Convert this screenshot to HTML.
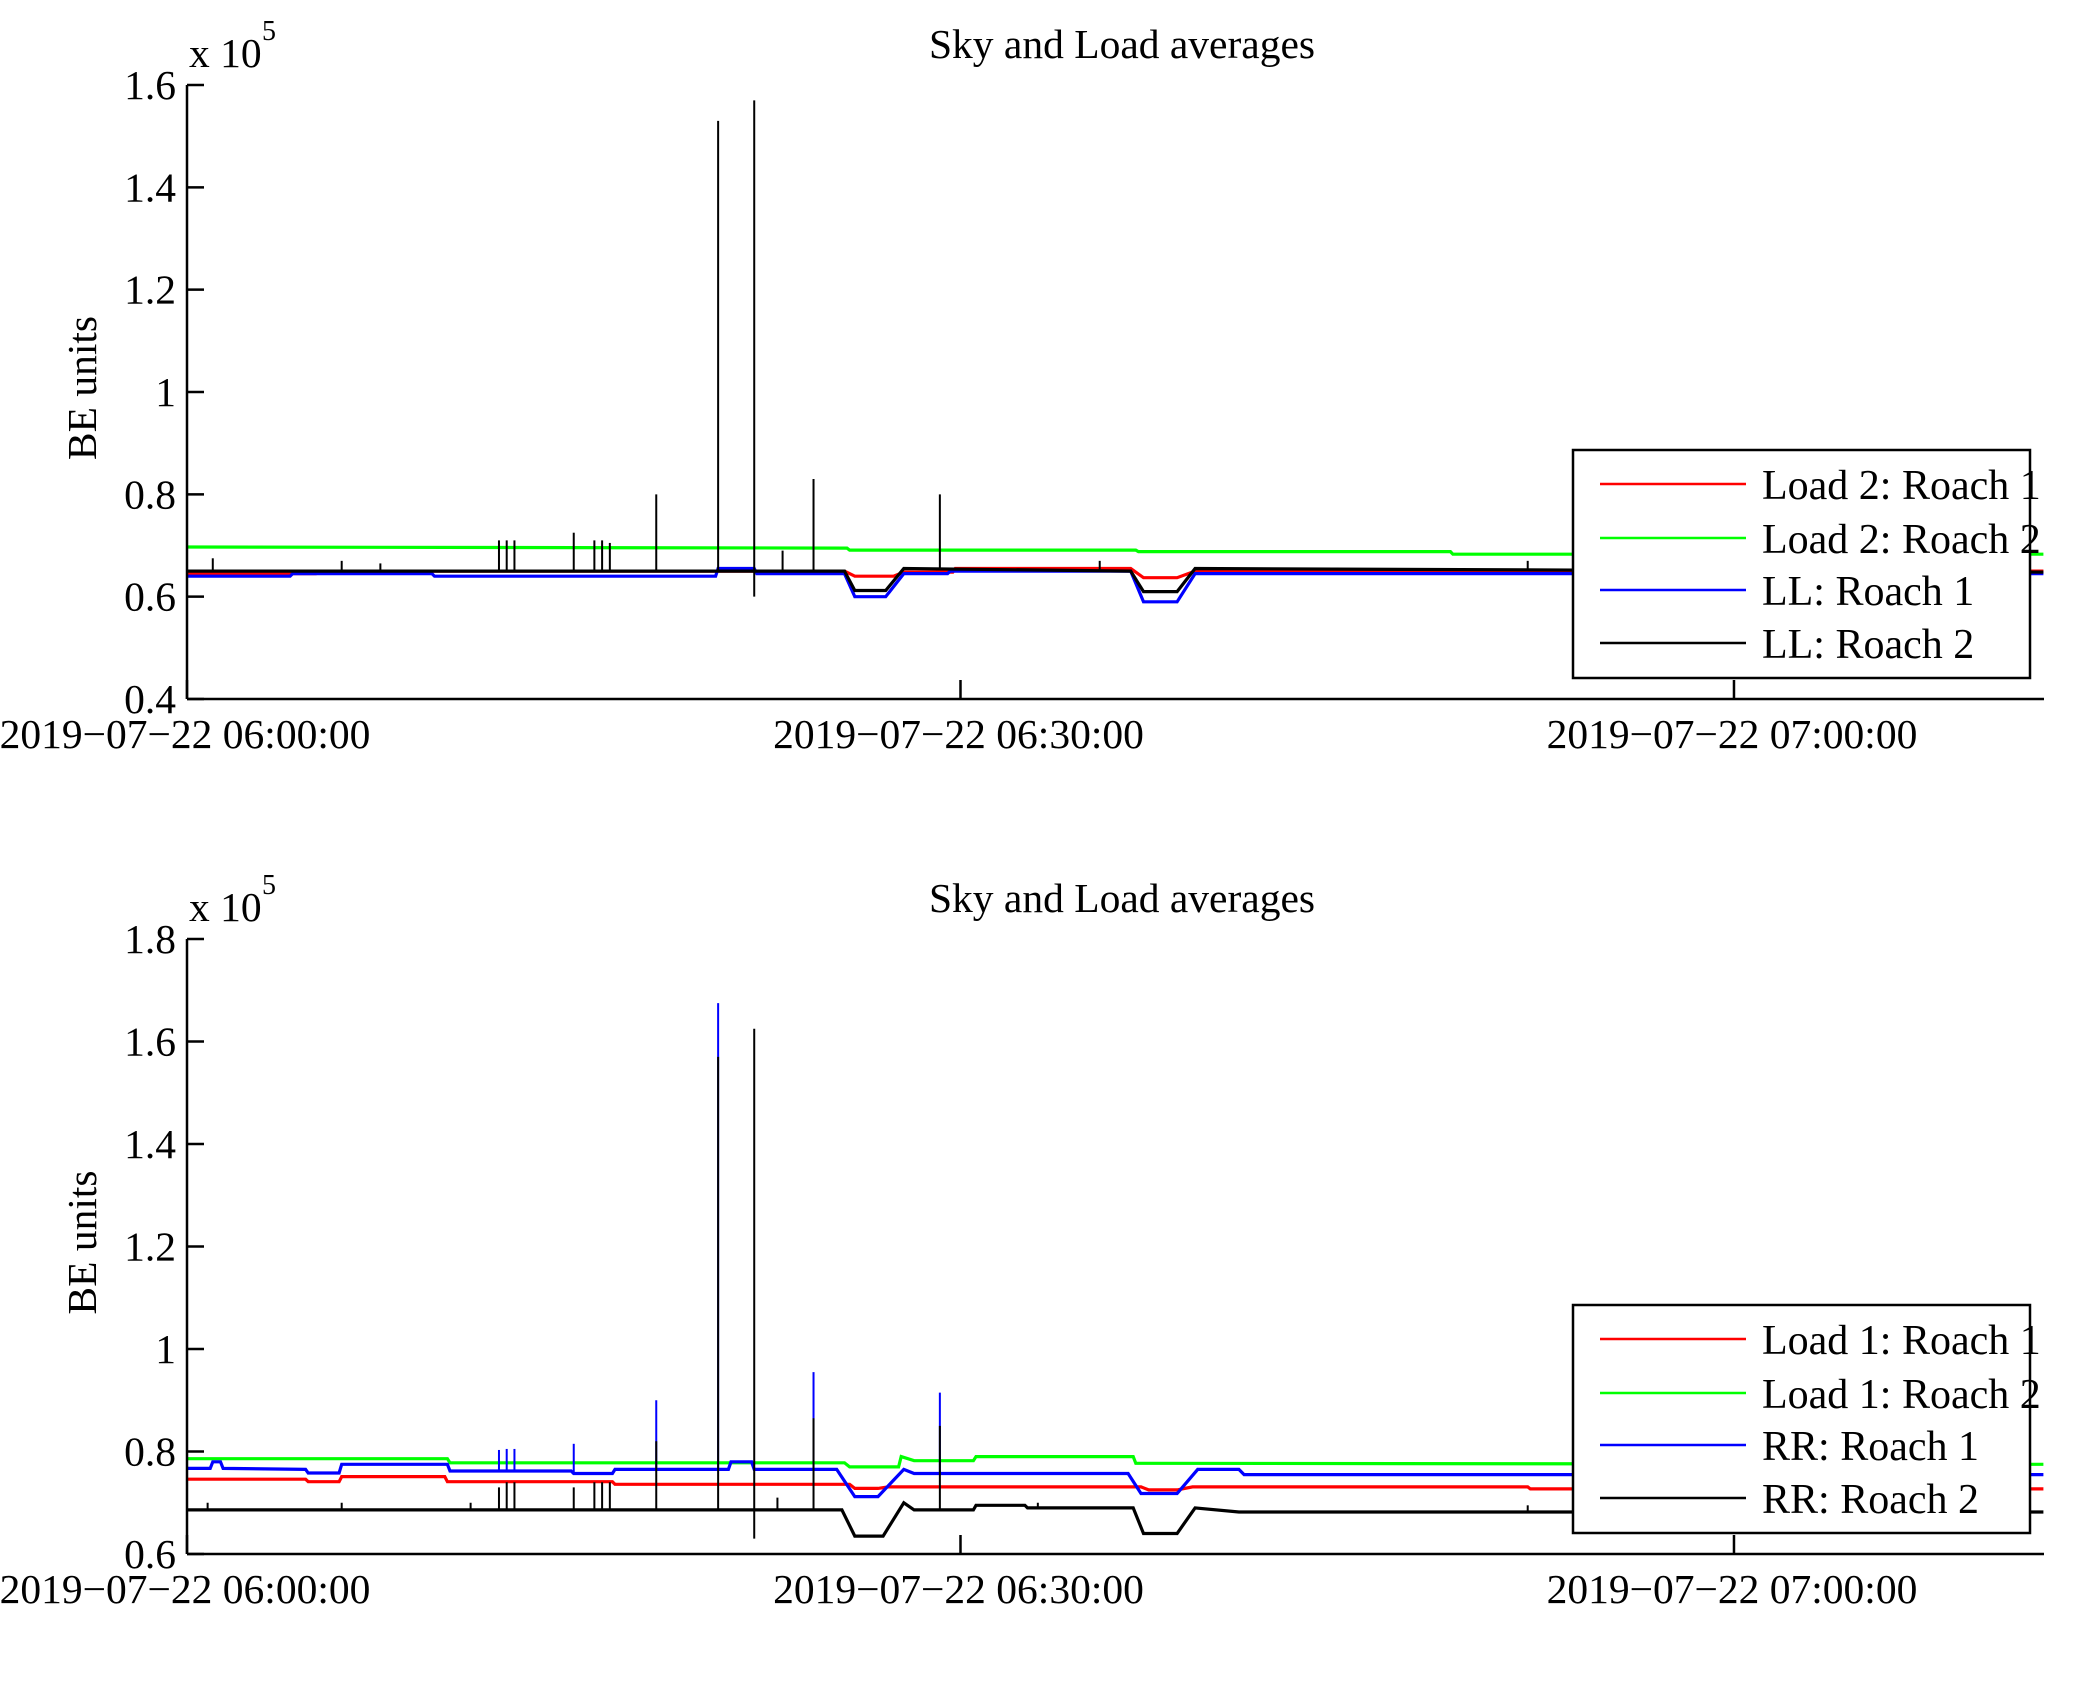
<!DOCTYPE html>
<html><head><meta charset="utf-8"><style>
html,body{margin:0;padding:0;background:#fff}
svg{display:block}
text{font-family:"Liberation Serif",serif;fill:#000}
</style></head><body>
<svg id="chart" width="2075" height="1683" viewBox="0 0 2075 1683" xmlns="http://www.w3.org/2000/svg"></svg>
<script>
// ---- data (time in minutes after 06:00, values in units of 1e5) ----
const xTickMinutes = [0, 30, 60];
const xTickLabels = ["2019\u221207\u221222 06:00:00","2019\u221207\u221222 06:30:00","2019\u221207\u221222 07:00:00"];
const topYTicks = [0.4,0.6,0.8,1,1.2,1.4,1.6];
const botYTicks = [0.6,0.8,1,1.2,1.4,1.6,1.8];
const topLegend = ["Load 2: Roach 1","Load 2: Roach 2","LL: Roach 1","LL: Roach 2"];
const botLegend = ["Load 1: Roach 1","Load 1: Roach 2","RR: Roach 1","RR: Roach 2"];

// top panel
const tRedT = [0,5,5.1,25.5,25.9,27.4,27.8,29.7,29.8,36.6,37.1,38.4,39.1,72];
const tRedV = [0.645,0.645,0.65,0.65,0.64,0.64,0.648,0.648,0.655,0.655,0.637,0.637,0.65,0.65];
const tGreenT = [0,25.6,25.7,36.8,36.9,49,49.1,72];
const tGreenV = [0.697,0.695,0.691,0.691,0.688,0.688,0.683,0.683];
const tBlueT = [0,4,4.1,9.5,9.6,20.5,20.6,22,22.1,25.5,25.9,27.1,27.8,29.5,29.6,36.6,37.1,38.4,39.1,72];
const tBlueV = [0.64,0.64,0.645,0.645,0.64,0.64,0.655,0.655,0.645,0.645,0.60,0.60,0.645,0.645,0.65,0.65,0.59,0.59,0.645,0.645];
const tBlackT = [0,25.5,25.9,27.1,27.8,36.6,37.1,38.4,39.1,72];
const tBlackV = [0.65,0.65,0.612,0.612,0.655,0.65,0.61,0.61,0.655,0.648];
const tSpikeT = [1,6,7.5,12.1,12.4,12.7,15,15.8,16.1,16.4,18.2,20.6,22,23.1,24.3,29.2,35.4,52];
const tSpikeV = [0.675,0.67,0.665,0.71,0.71,0.71,0.725,0.71,0.71,0.705,0.80,1.53,1.57,0.69,0.83,0.80,0.67,0.67];
const tSpikeLow = [null,null,null,null,null,null,null,null,null,null,null,null,0.60,null,null,null,null,null];

// bottom panel
const bRedT = [0,4.6,4.7,5.9,6,10,10.1,16.5,16.6,25.7,25.9,26.8,27.2,37,37.3,38.4,39,52,52.1,72];
const bRedV = [0.746,0.746,0.741,0.741,0.751,0.751,0.741,0.741,0.736,0.736,0.728,0.728,0.731,0.731,0.725,0.725,0.731,0.731,0.727,0.727];
const bGreenT = [0,10.1,10.2,25.5,25.7,27.6,27.7,28.2,28.3,30.5,30.6,36.7,36.8,72];
const bGreenV = [0.786,0.786,0.778,0.778,0.770,0.770,0.79,0.782,0.782,0.782,0.79,0.79,0.777,0.775];
const bBlueT = [0,0.9,1.0,1.3,1.4,4.6,4.7,5.9,6,10.1,10.2,14.9,15,16.5,16.6,21,21.1,21.9,22,25.2,25.9,26.8,27.8,28.2,36.5,37,38.4,39.2,40.8,41,72];
const bBlueV = [0.767,0.767,0.78,0.78,0.767,0.765,0.758,0.758,0.775,0.775,0.762,0.762,0.757,0.757,0.765,0.765,0.78,0.78,0.765,0.765,0.712,0.712,0.765,0.757,0.757,0.718,0.718,0.765,0.765,0.755,0.755];
const bBlackT = [0,25.4,25.9,27,27.8,28.2,30.5,30.6,32.5,32.6,36.7,37.1,38.4,39.1,40.8,72];
const bBlackV = [0.686,0.686,0.635,0.635,0.70,0.686,0.686,0.695,0.695,0.69,0.69,0.64,0.64,0.69,0.682,0.682];
const bBlueSpikeT = [12.1,12.4,12.7,15,18.2,20.6,24.3,29.2];
const bBlueSpikeV = [0.803,0.805,0.805,0.815,0.90,1.675,0.955,0.915];
const bBlackSpikeT = [0.8,6,11,12.1,12.4,12.7,15,15.8,16.1,16.4,18.2,20.6,22,22.9,24.3,29.2,33,52];
const bBlackSpikeV = [0.70,0.70,0.70,0.73,0.74,0.74,0.73,0.74,0.74,0.74,0.82,1.57,1.625,0.71,0.865,0.85,0.70,0.695];
const bBlackSpikeLow = [null,null,null,null,null,null,null,null,null,null,null,null,0.63,null,null,null,null,null];

// ---- drawing ----
const NS = "http://www.w3.org/2000/svg";
const svg = document.getElementById('chart');
const X0 = 187, PXMIN = 25.783, XEND = 2044;
const FS = 41.5;
const xs = t => X0 + t * PXMIN;
function mk(tag, attrs, parent) {
  const e = document.createElementNS(NS, tag);
  for (const k in attrs) e.setAttribute(k, attrs[k]);
  (parent || svg).appendChild(e);
  return e;
}
function interp(T, V, t) {
  for (let i = 0; i < T.length - 1; i++) if (t >= T[i] && t <= T[i+1]) {
    const f = (T[i+1] === T[i]) ? 0 : (t - T[i]) / (T[i+1] - T[i]);
    return V[i] + f * (V[i+1] - V[i]);
  }
  return V[V.length - 1];
}
function panel(g, cfg) {
  const ys = v => cfg.yBot - (v - cfg.vMin) / (cfg.vMax - cfg.vMin) * (cfg.yBot - cfg.yTop);
  let e = mk('text', {x: 1122, y: cfg.yTop - 27, 'font-size': FS, 'text-anchor': 'middle'}, g);
  e.textContent = 'Sky and Load averages';
  
  
  e = mk('text', {x: 189, y: cfg.yTop - 18, 'font-size': FS}, g);
  e.textContent = 'x 10';
  
  
  e = mk('text', {x: 262, y: cfg.yTop - 45, 'font-size': 28}, g);
  e.textContent = '5';
  
  
  const cy = (cfg.yTop + cfg.yBot) / 2 - 4;
  e = mk('text', {x: 0, y: 0, 'font-size': FS, 'text-anchor': 'middle', transform: `translate(96 ${cy}) rotate(-90)`}, g);
  e.textContent = 'BE units';
  
  
  const series = [[cfg.rT, cfg.rV, '#ff0000'], [cfg.gT, cfg.gV, '#00ff00'], [cfg.bT, cfg.bV, '#0000ff'], [cfg.kT, cfg.kV, '#000000']];
  const names = ['series-red', 'series-green', 'series-blue', 'series-black'];
  series.forEach((s, i) => {
    const pts = s[0].map((t, j) => xs(t).toFixed(1) + ',' + ys(s[1][j]).toFixed(1)).join(' ');
    const pl = mk('polyline', {points: pts, fill: 'none', stroke: s[2], 'stroke-width': 3.2}, g);
    
    
    if (i === 2 && cfg.bsT) cfg.bsT.forEach((t, j) => {
      const l = mk('line', {x1: xs(t), x2: xs(t), y1: ys(interp(s[0], s[1], t)), y2: ys(cfg.bsV[j]), stroke: '#0000ff', 'stroke-width': 2}, g);
      
      
    });
  });
  cfg.ksT.forEach((t, j) => {
    const base = cfg.ksLow[j] != null ? cfg.ksLow[j] : interp(cfg.kT, cfg.kV, t);
    const l = mk('line', {x1: xs(t), x2: xs(t), y1: ys(base), y2: ys(cfg.ksV[j]), stroke: '#000', 'stroke-width': 2}, g);
    
    
  });
  e = mk('line', {x1: X0, x2: X0, y1: cfg.yTop, y2: cfg.yBot, stroke: '#000', 'stroke-width': 2.5}, g);
  
  
  e = mk('line', {x1: X0, x2: XEND, y1: cfg.yBot, y2: cfg.yBot, stroke: '#000', 'stroke-width': 2.5}, g);
  
  
  cfg.yTicks.forEach(v => {
    const y = ys(v);
    let t = mk('line', {x1: X0, x2: X0 + 17, y1: y, y2: y, stroke: '#000', 'stroke-width': 2.5}, g);
    
    
    t = mk('text', {x: 176, y: y + 14, 'font-size': FS, 'text-anchor': 'end'}, g);
    t.textContent = String(v);
    
    
  });
  xTickMinutes.forEach((m, i) => {
    const x = xs(m);
    let t = mk('line', {x1: x, x2: x, y1: cfg.yBot, y2: cfg.yBot - 19, stroke: '#000', 'stroke-width': 2.5}, g);
    
    
    t = mk('text', {x: x - 2, y: cfg.yBot + 49, 'font-size': FS, 'text-anchor': 'middle'}, g);
    t.textContent = xTickLabels[i];
    
    
  });
  const lg = mk('g', {}, g);
  
  
  const ly = cfg.yBot - 249;
  mk('rect', {x: 1573, y: ly, width: 457, height: 228, fill: '#fff', stroke: '#000', 'stroke-width': 2.5}, lg);
  const cols = ['#ff0000', '#00ff00', '#0000ff', '#000000'];
  const offs = [34, 88, 140, 193];
  cfg.legend.forEach((name, i) => {
    const eg = mk('g', {}, lg);
    
    
    mk('line', {x1: 1600, x2: 1746, y1: ly + offs[i], y2: ly + offs[i], stroke: cols[i], 'stroke-width': 2.5}, eg);
    const t = mk('text', {x: 1762, y: ly + offs[i] + 15, 'font-size': 42}, eg);
    t.textContent = name;
  });
}
const gTop = mk('g', {});


panel(gTop, {yTop: 85, yBot: 699, vMin: 0.4, vMax: 1.6, yTicks: topYTicks, legend: topLegend,
  rT: tRedT, rV: tRedV, gT: tGreenT, gV: tGreenV, bT: tBlueT, bV: tBlueV, kT: tBlackT, kV: tBlackV,
  ksT: tSpikeT, ksV: tSpikeV, ksLow: tSpikeLow});
const gBot = mk('g', {});


panel(gBot, {yTop: 939, yBot: 1554, vMin: 0.6, vMax: 1.8, yTicks: botYTicks, legend: botLegend,
  rT: bRedT, rV: bRedV, gT: bGreenT, gV: bGreenV, bT: bBlueT, bV: bBlueV, kT: bBlackT, kV: bBlackV,
  bsT: bBlueSpikeT, bsV: bBlueSpikeV, ksT: bBlackSpikeT, ksV: bBlackSpikeV, ksLow: bBlackSpikeLow});
</script>
</body></html>
